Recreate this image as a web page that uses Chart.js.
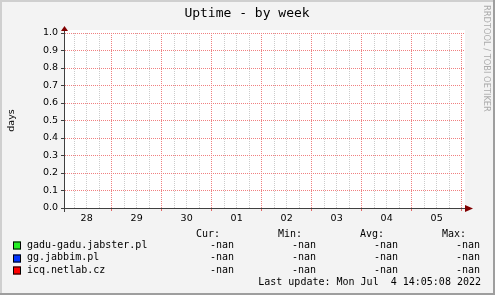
<!DOCTYPE html>
<html><head><meta charset="utf-8">
<script src="https://cdn.jsdelivr.net/npm/chart.js@4"></script>
<style>html,body{margin:0;padding:0;background:#f3f3f3;}canvas{display:block;}</style>
</head><body>
<canvas id="c" width="495" height="295"></canvas>
<script>
// ---- data ----
const chartTitle = 'Uptime - by week';
const yAxisTitle = 'days';
const seriesNames = ['gadu-gadu.jabster.pl', 'gg.jabbim.pl', 'icq.netlab.cz'];
const seriesColors = ['#22ee22', '#0033ff', '#ff0000'];
// every sample in the week is NaN (no data), so each series is empty
const gaduGaduValues = [];
const ggJabbimValues = [];
const icqNetlabValues = [];
const statHeaders = ['Cur:', 'Min:', 'Avg:', 'Max:'];
const curValues = ['-nan', '-nan', '-nan'];
const minValues = ['-nan', '-nan', '-nan'];
const avgValues = ['-nan', '-nan', '-nan'];
const maxValues = ['-nan', '-nan', '-nan'];
const dayLabels = ['28', '29', '30', '01', '02', '03', '04', '05'];
const yTickValues = [0, 0.1, 0.2, 0.3, 0.4, 0.5, 0.6, 0.7, 0.8, 0.9, 1.0];
const xStartHour = 1.6;   // hours after 28 Jun 00:00
const xEndHour = 193.6;
const lastUpdate = 'Last update: Mon Jul  4 14:05:08 2022';
const watermark = 'RRDTOOL / TOBI OETIKER';

// ---- styles ----
const majorGrid = '#f08080';
const minorGrid = '#cccccc';
const axisColor = '#404040';
const arrowColor = '#800000';
const sansFont = '"DejaVu Sans", sans-serif';
const monoFont = '"DejaVu Sans Mono", monospace';

const rrdPlugin = {
  id: 'rrd',
  beforeDraw(chart) {
    const ctx = chart.ctx, W = chart.width, H = chart.height, ca = chart.chartArea;
    ctx.save();
    ctx.fillStyle = '#f3f3f3'; ctx.fillRect(0, 0, W, H);
    ctx.fillStyle = '#cfcfcf'; ctx.fillRect(0, 0, W, 2); ctx.fillRect(0, 0, 2, H);
    ctx.fillStyle = '#9e9e9e'; ctx.fillRect(0, H - 2, W, 2); ctx.fillRect(W - 2, 0, 2, H);
    ctx.fillStyle = '#ffffff';
    ctx.fillRect(ca.left, ca.top - 3, ca.right - ca.left, ca.bottom - ca.top + 3);
    ctx.restore();
  },
  afterDraw(chart) {
    const ctx = chart.ctx, W = chart.width, ca = chart.chartArea;
    ctx.save();
    // axes
    ctx.strokeStyle = axisColor; ctx.lineWidth = 1;
    ctx.beginPath(); ctx.moveTo(ca.left - 4, ca.bottom + 0.5); ctx.lineTo(ca.right + 4, ca.bottom + 0.5); ctx.stroke();
    ctx.beginPath(); ctx.moveTo(ca.left - 0.5, ca.bottom + 4); ctx.lineTo(ca.left - 0.5, ca.top - 3); ctx.stroke();
    ctx.fillStyle = arrowColor;
    ctx.beginPath(); ctx.moveTo(ca.right, ca.bottom + 0.5 - 3.5); ctx.lineTo(ca.right + 8, ca.bottom + 0.5); ctx.lineTo(ca.right, ca.bottom + 0.5 + 3.5); ctx.closePath(); ctx.fill();
    ctx.beginPath(); ctx.moveTo(ca.left - 0.5 - 3.5, ca.top - 2); ctx.lineTo(ca.left - 0.5, ca.top - 7); ctx.lineTo(ca.left - 0.5 + 3.5, ca.top - 2); ctx.closePath(); ctx.fill();

    // title
    ctx.fillStyle = '#000';
    ctx.font = '13px ' + monoFont; ctx.textAlign = 'center'; ctx.textBaseline = 'middle';
    ctx.fillText(chartTitle, 247, 14);

    // y axis title
    ctx.save();
    ctx.translate(12, (ca.top + ca.bottom) / 2); ctx.rotate(-Math.PI / 2);
    ctx.font = '9.5px ' + sansFont; ctx.textAlign = 'center'; ctx.textBaseline = 'middle';
    ctx.fillText(yAxisTitle, 0, 0);
    ctx.restore();

    // watermark
    ctx.save();
    ctx.translate(486, 5); ctx.rotate(Math.PI / 2);
    ctx.font = '8.3px ' + sansFont; ctx.fillStyle = '#ababab'; ctx.textAlign = 'left'; ctx.textBaseline = 'middle';
    ctx.fillText(watermark, 0, 0);
    ctx.restore();

    // legend
    ctx.font = '10px ' + monoFont; ctx.textBaseline = 'middle'; ctx.fillStyle = '#000';
    const headerRight = [220, 302, 384, 466];
    const valueRight = [234, 316, 398, 480];
    ctx.textAlign = 'right';
    statHeaders.forEach((h, i) => ctx.fillText(h, headerRight[i], 234));
    const stats = [curValues, minValues, avgValues, maxValues];
    chart.data.datasets.forEach((ds, r) => {
      const y = 245 + r * 12.5;
      ctx.fillStyle = ds.borderColor; ctx.fillRect(13, Math.round(y) - 3.5, 8, 8);
      ctx.strokeStyle = '#000'; ctx.lineWidth = 1; ctx.strokeRect(13.5, Math.round(y) - 3, 7, 7);
      ctx.fillStyle = '#000'; ctx.textAlign = 'left';
      ctx.fillText(ds.label, 27, y);
      ctx.textAlign = 'right';
      stats.forEach((col, c) => ctx.fillText(col[r], valueRight[c], y));
    });
    ctx.textAlign = 'right';
    ctx.fillText(lastUpdate, 481, 282);
    ctx.restore();
  }
};

new Chart(document.getElementById('c'), {
  type: 'line',
  data: {
    datasets: [
      { label: seriesNames[0], data: gaduGaduValues, borderColor: seriesColors[0], backgroundColor: seriesColors[0], pointRadius: 0, borderWidth: 1 },
      { label: seriesNames[1], data: ggJabbimValues, borderColor: seriesColors[1], backgroundColor: seriesColors[1], pointRadius: 0, borderWidth: 1 },
      { label: seriesNames[2], data: icqNetlabValues, borderColor: seriesColors[2], backgroundColor: seriesColors[2], pointRadius: 0, borderWidth: 1 }
    ]
  },
  options: {
    responsive: false,
    animation: false,
    devicePixelRatio: 1,
    layout: { padding: { top: 33, right: 30, bottom: 67, left: 0 } },
    plugins: { legend: { display: false }, title: { display: false }, tooltip: { enabled: false } },
    scales: {
      x: {
        type: 'linear', min: xStartHour, max: xEndHour,
        afterBuildTicks: s => { const t = []; for (let h = 6; h <= xEndHour; h += 6) t.push({ value: h }); s.ticks = t; },
        afterFit: s => { s.height = 20; },
        grid: {
          color: c => (c.tick && c.tick.value % 24 === 0) ? majorGrid : minorGrid,
          tickColor: c => (c.tick && c.tick.value % 24 === 0) ? '#e06868' : 'rgba(0,0,0,0)',
          tickLength: 3, lineWidth: 1
        },
        border: { display: false, dash: [1, 1] },
        ticks: {
          autoSkip: false, maxRotation: 0, minRotation: 0, padding: 2, color: '#000',
          font: { family: sansFont, size: 9.5 },
          callback: v => (v % 24 === 12) ? dayLabels[(v - 12) / 24] : ''
        }
      },
      y: {
        min: 0, max: 1,
        afterBuildTicks: s => { s.ticks = yTickValues.map(v => ({ value: v })); },
        afterFit: s => { s.width = 65; },
        grid: { color: majorGrid, tickColor: axisColor, tickLength: 4, lineWidth: 1 },
        border: { display: false, dash: [1, 1] },
        ticks: { padding: 3, color: '#000', font: { family: sansFont, size: 9.5 }, callback: v => v.toFixed(1) }
      }
    }
  },
  plugins: [rrdPlugin]
});
</script>
</body></html>
